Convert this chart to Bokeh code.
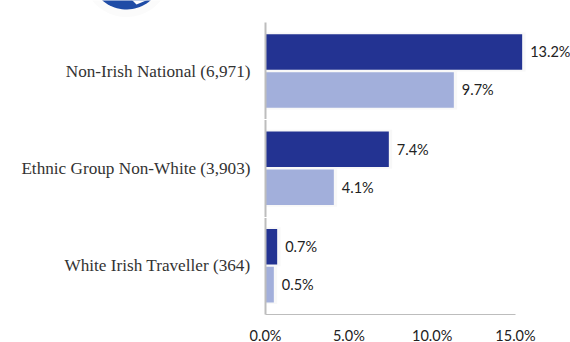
import numpy as np
from bokeh.plotting import figure
from bokeh.layouts import column
from bokeh.models import Range1d, LinearAxis, FixedTicker, Label
from bokeh.embed import file_html
from bokeh.resources import INLINE

categories = ["Non-Irish National (6,971)", "Ethnic Group Non-White (3,903)", "White Irish Traveller (364)"]
series_a = [15.4, 7.4, 0.7]
series_b = [11.3, 4.1, 0.5]
labels_a = ["13.2%", "7.4%", "0.7%"]
labels_b = ["9.7%", "4.1%", "0.5%"]
ticks = [0, 5, 10, 15]
tick_labels = ["0.0%", "5.0%", "10.0%", "15.0%"]
dark = "#233392"
light = "#a2afdb"
axis_grey = "#bdbdbd"

W, H = 570, 342
LOGO_H = 18
OVER = 4
L, R, T, B = 265, 515, 22, 314
x_end = 15 * (W - L) / (R - L)

# strip with the partly visible round logo
logo = figure(width=W, height=LOGO_H, output_backend="svg", toolbar_location=None,
              x_range=Range1d(0, W), y_range=Range1d(LOGO_H, 0),
              min_border=0, outline_line_color=None)
logo.axis.visible = False
logo.grid.visible = False
angles = np.linspace(0, 2 * np.pi, 90)
logo.patch(126 + 44 * np.cos(angles), -27.5 + 44 * np.sin(angles), color="#fbfbfb", line_color=None)
logo.patch(126 + 36.5 * np.cos(angles), -27.5 + 36.5 * np.sin(angles), color="#1f4ca6", line_color=None)
logo.patch([131, 148, 136], [-1, -1, 4], color="white", line_color=None)

p = figure(width=W, height=H - LOGO_H + OVER, output_backend="svg", toolbar_location=None,
           x_range=Range1d(0, x_end), y_range=Range1d(3, 0),
           min_border_left=L, min_border_right=0, min_border_top=T - LOGO_H, min_border_bottom=H - B,
           margin=(0, 0, -OVER, 0), outline_line_color=None)
p.xgrid.visible = False
p.ygrid.visible = False
p.axis.visible = False
p.background_fill_color = None
p.border_fill_color = "white"

xax = LinearAxis(ticker=FixedTicker(ticks=ticks), bounds=(0, 15),
                 major_label_overrides=dict(zip(ticks, tick_labels)),
                 axis_line_color=axis_grey, axis_line_width=1,
                 major_tick_line_color=None, minor_tick_line_color=None,
                 major_label_text_font="Lato", major_label_text_font_size="14.5px",
                 major_label_text_color="#222222", major_label_standoff=6)
p.add_layout(xax, "below")
yax = LinearAxis(ticker=FixedTicker(ticks=[0.5, 1.5, 2.5], minor_ticks=[1, 2]),
                 major_label_overrides={0.5: categories[0], 1.5: categories[1], 2.5: categories[2]},
                 axis_line_color=axis_grey, axis_line_width=2,
                 major_tick_line_color=None,
                 minor_tick_line_color="white", minor_tick_line_width=1,
                 minor_tick_in=2, minor_tick_out=2,
                 major_label_text_font="Liberation Serif", major_label_text_font_size="17.2px",
                 major_label_text_color="#333333", major_label_standoff=9)
p.add_layout(yax, "left")

centres = [0.5, 1.5, 2.5]
ya = [c - 0.197 for c in centres]
yb = [c + 0.193 for c in centres]
p.hbar(y=ya, right=[v + 0.2 for v in series_a], left=0, height=0.4, color="#f8f8f8", line_color=None)
p.hbar(y=yb, right=[v + 0.2 for v in series_b], left=0, height=0.4, color="#f8f8f8", line_color=None)
p.hbar(y=ya, right=series_a, left=0, height=0.365, color=dark, line_color=None)
p.hbar(y=yb, right=series_b, left=0, height=0.365, color=light, line_color=None)

for xv, yv, t in zip(series_a + series_b, ya + yb, labels_a + labels_b):
    p.add_layout(Label(x=xv, y=yv, text=t, x_offset=8, y_offset=0, text_baseline="middle",
                       text_font="Lato", text_font_size="14.5px", text_color="#222222"))

open("out.html", "w").write(file_html(column(column(logo), column(p), spacing=0), INLINE))
